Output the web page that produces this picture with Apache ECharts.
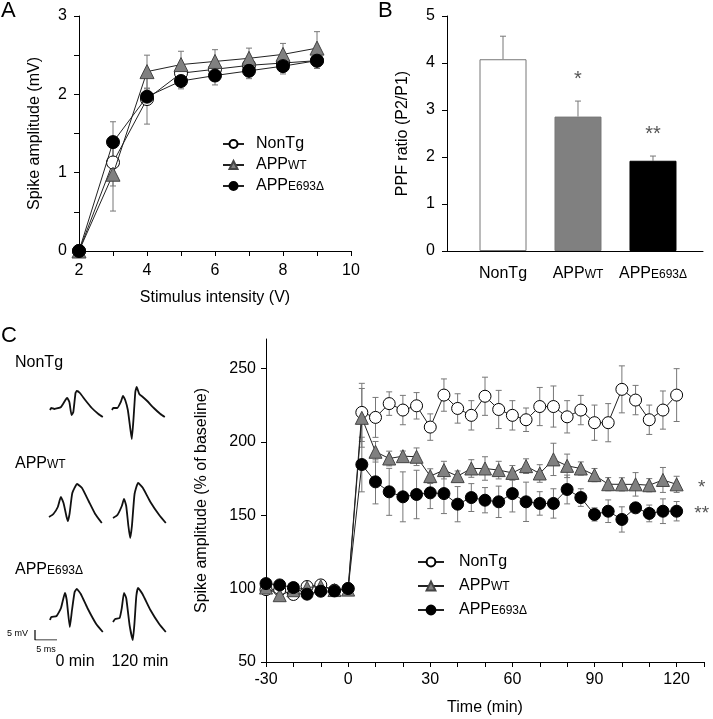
<!DOCTYPE html>
<html>
<head>
<meta charset="utf-8">
<script src="https://cdn.jsdelivr.net/npm/echarts@6/dist/echarts.min.js"></script>
<style>
  html, body { margin: 0; padding: 0; background: #fff; }
  #chart { width: 713px; height: 719px; }
</style>
</head>
<body>
<div id="chart"></div>
<script>
// A: input/output curve
const stimV = [2, 3, 4, 5, 6, 7, 8, 9]
const ioNonTg = [0, 1.13, 1.94, 2.27, 2.32, 2.37, 2.40, 2.43]
const ioNonTgErr = [0, 0.30, 0.32, 0.10, 0.10, 0.10, 0.10, 0.10]
const ioWT = [0, 0.98, 2.29, 2.38, 2.42, 2.46, 2.51, 2.59]
const ioWTErr = [0, 0.47, 0.21, 0.17, 0.15, 0.13, 0.14, 0.21]
const ioE693 = [0, 1.39, 1.97, 2.17, 2.24, 2.30, 2.36, 2.43]
const ioE693Err = [0, 0.26, 0.10, 0.10, 0.12, 0.10, 0.10, 0.10]

// B: paired pulse ratio
const ppfMain = ['NonTg', 'APP', 'APP']
const ppfSub = ['', 'WT', 'E693Δ']
const ppf = [4.08, 2.86, 1.92]
const ppfErr = [0.49, 0.33, 0.10]
const ppfSig = ['', '*', '**']
const ppfColors = ['#fff', '#808080', '#000']

// C: LTP time course
const ltpTime = [-30, -25, -20, -15, -10, -5, 0, 5, 10, 15, 20, 25, 30, 35, 40, 45, 50, 55, 60,
  65, 70, 75, 80, 85, 90, 95, 100, 105, 110, 115, 120]
const ltpNonTg = [99.3, 99, 96, 101.4, 102.5, 98.9, 100, 220, 216.6, 226, 221.6, 224.5, 210, 231.8,
  222.7, 218, 231, 222, 218, 215, 224, 224, 217, 221.6, 213, 213, 235.7, 228.4, 215, 221.6, 231.8]
const ltpNonTgErr = [2, 2, 2, 2, 2, 2, 1, 19.8, 13.6, 8, 10, 9, 9, 11, 10, 10, 13, 13, 10, 8, 13, 14,
  11, 10, 12, 13, 16, 10, 10, 13, 18]
const ltpWT = [100.7, 95.5, 98.9, 100.7, 101.6, 99, 99.3, 216.3, 193.2, 188.6, 190.2, 189.8, 176.6,
  180.7, 176.6, 181.8, 181.8, 180.7, 178.8, 183.4, 178.4, 188, 183.6, 181.8, 177.3, 171.1, 171, 171,
  170.4, 174, 171]
const ltpWTErr = [2, 3, 2, 2, 2, 2, 1, 20, 7, 5, 3.5, 6, 5, 6, 3.5, 6, 8, 6, 5, 5, 6, 11, 8, 4.5, 4.5,
  4.5, 4.5, 8, 4.5, 8.5, 5.5]
const ltpE693 = [103.4, 102.5, 100.7, 96.2, 98.2, 98.4, 100, 184.5, 172.7, 165.9, 162.5, 164.1, 165.2,
  164.7, 157.5, 162, 160.2, 159.1, 164.7, 159.1, 158, 158, 167.5, 162, 150.5, 152.7, 147.1, 155,
  151.2, 152.7, 152.7]
const ltpE693Err = [2, 2, 3, 2, 2, 2, 1, 18.6, 15, 16, 17, 16.5, 10.7, 13.6, 12, 9.5, 8.6, 10.7, 12.5,
  13.4, 8, 10, 9.8, 6, 4.5, 7.7, 8.6, 2, 5.7, 8.4, 6.6]

// C: example field potentials, [ms, mV]
const trNonTg0 = [[0, 0], [0.3, 1], [1, 0.5], [2.5, 1.5], [3.5, 5], [3.9, 6], [4.4, 4], [4.9, -2.5],
  [5.3, -1], [5.8, 8.5], [6.1, 9.5], [6.8, 8.5], [8, 5], [9.5, 1], [11, -2], [12, -3.5]]
const trNonTg120 = [[0, 0], [0.3, 1], [1.2, 1], [2, 4], [2.5, 7], [3, 5], [3.6, 0], [4.2, -10],
  [4.5, -14.5], [4.9, -4], [5.3, 9], [5.6, 11.5], [6.2, 8], [7, 6.5], [8, 4.5], [9.5, 1], [11, -2], [12, -3.5]]
const trWT0 = [[0, 0], [1, 1.5], [2, 5], [2.7, 10], [3.3, 7], [4, 0], [4.3, -2], [4.7, 2], [5.3, 12],
  [6.4, 16.5], [7.5, 14.5], [9, 8], [10.5, 1.5], [12, -3]]
const trWT120 = [[0, 0], [1, 1.5], [2, 6], [2.5, 9.5], [3, 6], [3.5, -4], [3.9, -10], [4.3, -4],
  [4.9, 12], [5.7, 17.5], [6.8, 15], [8.5, 8], [10.5, 1.5], [12, -2.5]]
const trE6930 = [[0, 0], [0.3, 1.5], [1.5, 2], [2.5, 6], [3.4, 13.5], [3.8, 10], [4.5, -3.5], [5, 5],
  [5.6, 14], [6.1, 15.5], [7, 13], [8.5, 6], [10.5, -2], [12, -6]]
const trE693120 = [[0, 0], [0.5, 1.5], [1.5, 2], [2, 7], [2.5, 14.5], [3, 12], [3.8, -2], [4.5, -9],
  [4.9, 0], [5.3, 13], [5.7, 17], [6.7, 14], [8.5, 6], [10.5, -1], [12, -5]]
const scaleBar = [[0, 5], [0, 0], [5, 0]]

const FONT = 'Liberation Sans, Arial, sans-serif'
const FS = 16
const seriesNames = ['NonTg', 'APPWT', 'APPE693Δ']
const rich = {
  m: { fontSize: FS, fontFamily: FONT, color: '#000', verticalAlign: 'bottom' },
  s: { fontSize: 12, fontFamily: FONT, color: '#000', verticalAlign: 'bottom', padding: [0, 0, 1, 0] }
}
function richName (main, sub) {
  return sub ? '{m|' + main + '}{s|' + sub + '}' : '{m|' + main + '}'
}
const legendText = {
  'NonTg': richName('NonTg', ''),
  'APPWT': richName('APP', 'WT'),
  'APPE693Δ': richName('APP', 'E693Δ')
}

const markStyles = [
  { symbol: 'circle', itemStyle: { color: '#fff', borderColor: '#000', borderWidth: 1 } },
  { symbol: 'triangle', itemStyle: { color: '#808080', borderColor: '#444', borderWidth: 1 } },
  { symbol: 'circle', itemStyle: { color: '#000', borderColor: '#000', borderWidth: 1 } }
]

function axisBase (extra) {
  return Object.assign({
    type: 'value',
    axisLine: { show: true, onZero: false, lineStyle: { color: '#000', width: 1 } },
    axisTick: { show: true, length: 5, lineStyle: { color: '#000' } },
    axisLabel: { color: '#000', fontSize: FS, fontFamily: FONT },
    splitLine: { show: false },
    nameTextStyle: { color: '#000', fontSize: FS, fontFamily: FONT }
  }, extra)
}

function lineSeries (k, xi, xs, ys, size) {
  return {
    type: 'line', name: seriesNames[k], xAxisIndex: xi, yAxisIndex: xi,
    data: xs.map((x, i) => [x, ys[i]]),
    symbol: markStyles[k].symbol,
    symbolSize: markStyles[k].symbol === 'triangle' ? size + 1 : size,
    itemStyle: markStyles[k].itemStyle,
    lineStyle: { color: '#222', width: 1 },
    z: 3 + k,
    animation: false
  }
}

function errSeries (xi, xs, ys, es, onlyUp, sig) {
  return {
    type: 'custom', name: 'err' + xi, xAxisIndex: xi, yAxisIndex: xi, silent: true, z: 2,
    data: xs.map((x, i) => [x, ys[i], es[i]]),
    encode: { x: 0, y: 1 },
    renderItem (params, api) {
      const x = api.value(0), y = api.value(1), e = api.value(2)
      const top = api.coord([x, y + e])
      const bot = api.coord([x, onlyUp ? y : y - e])
      const w = 3
      const st = { stroke: '#777', lineWidth: 1 }
      const children = [
        { type: 'line', shape: { x1: top[0], y1: top[1], x2: bot[0], y2: bot[1] }, style: st },
        { type: 'line', shape: { x1: top[0] - w, y1: top[1], x2: top[0] + w, y2: top[1] }, style: st }
      ]
      if (!onlyUp) children.push({ type: 'line', shape: { x1: bot[0] - w, y1: bot[1], x2: bot[0] + w, y2: bot[1] }, style: st })
      if (sig && sig[params.dataIndex]) {
        children.push({ type: 'text', x: top[0], y: top[1] - 22,
          style: { text: sig[params.dataIndex], fill: '#555', font: '20px ' + FONT, align: 'center', verticalAlign: 'middle' } })
      }
      return { type: 'group', children }
    }
  }
}

function traceSeries (idx, data) {
  return {
    type: 'line', xAxisIndex: idx, yAxisIndex: idx, data,
    symbol: 'none', smooth: 0.15, lineStyle: { color: '#111', width: 1.8 }, silent: true, animation: false
  }
}

// trace panels: left px, baseline px
const traceGrids = [[50, 410], [112, 410], [49, 517], [113, 518], [50, 620], [113, 622]]
const traceData = [trNonTg0, trNonTg120, trWT0, trWT120, trE6930, trE693120]

const grid = [
  { left: 79, top: 16, width: 272, height: 235 },
  { left: 447, top: 16, width: 256, height: 235 },
  { left: 266, top: 339, width: 438, height: 323 }
]
traceGrids.forEach(g => grid.push({ left: g[0], top: g[1] - 40, width: 52.8, height: 70 }))
grid.push({ left: 35, top: 630, width: 22, height: 10 })

const xAxis = [
  axisBase({ gridIndex: 0, min: 2, max: 10, interval: 1,
    axisLabel: { color: '#000', fontSize: FS, fontFamily: FONT, margin: 12, formatter: v => (v % 2 === 0 ? v : '') },
    name: 'Stimulus intensity (V)', nameLocation: 'middle', nameGap: 39 }),
  axisBase({ gridIndex: 1, min: 0.253, max: 3.667, axisTick: { show: false },
    axisLabel: { color: '#000', fontSize: FS, fontFamily: FONT, margin: 15, customValues: [1, 2, 3],
      formatter: v => richName(ppfMain[Math.round(v) - 1], ppfSub[Math.round(v) - 1]), rich } }),
  axisBase({ gridIndex: 2, min: -30, max: 130, interval: 10,
    axisLabel: { color: '#000', fontSize: FS, fontFamily: FONT, margin: 10, formatter: v => (v % 30 === 0 && v <= 120 ? v : '') },
    name: 'Time (min)', nameLocation: 'middle', nameGap: 38 })
]
const yAxis = [
  axisBase({ gridIndex: 0, min: 0, max: 3, interval: 0.5,
    axisLabel: { color: '#000', fontSize: FS, fontFamily: FONT, margin: 12, formatter: v => (v % 1 === 0 ? v : '') },
    name: 'Spike amplitude (mV)', nameLocation: 'middle', nameGap: 36 }),
  axisBase({ gridIndex: 1, min: 0, max: 5, interval: 1,
    axisLabel: { color: '#000', fontSize: FS, fontFamily: FONT, margin: 12 },
    name: 'PPF ratio (P2/P1)', nameLocation: 'middle', nameGap: 36 }),
  axisBase({ gridIndex: 2, min: 50, max: 270,
    axisTick: { show: true, length: 5, lineStyle: { color: '#000' }, customValues: [50, 100, 150, 200, 250] },
    axisLabel: { color: '#000', fontSize: FS, fontFamily: FONT, margin: 10, customValues: [50, 100, 150, 200, 250] },
    name: 'Spike amplitude (% of baseline)', nameLocation: 'middle', nameGap: 56 })
]
traceGrids.forEach((g, i) => {
  xAxis.push({ type: 'value', gridIndex: 3 + i, min: 0, max: 12, show: false })
  yAxis.push({ type: 'value', gridIndex: 3 + i, min: -15, max: 20, show: false })
})
xAxis.push({ type: 'value', gridIndex: 9, min: 0, max: 5, show: false })
yAxis.push({ type: 'value', gridIndex: 9, min: 0, max: 5, show: false })

const last = ltpTime.length - 1
const series = [
  errSeries(0, stimV, ioNonTg, ioNonTgErr, false),
  errSeries(0, stimV, ioWT, ioWTErr, false),
  errSeries(0, stimV, ioE693, ioE693Err, false),
  lineSeries(0, 0, stimV, ioNonTg, 13),
  lineSeries(1, 0, stimV, ioWT, 13),
  lineSeries(2, 0, stimV, ioE693, 13),
  {
    type: 'bar', xAxisIndex: 1, yAxisIndex: 1, barWidth: 47, silent: true, animation: false,
    data: ppf.map((v, i) => ({ value: [i + 1, v],
      itemStyle: { color: ppfColors[i], borderColor: i === 2 ? '#000' : '#777', borderWidth: 1 } }))
  },
  errSeries(1, [1, 2, 3], ppf, ppfErr, true, ppfSig),
  errSeries(2, ltpTime, ltpNonTg, ltpNonTgErr, false),
  errSeries(2, ltpTime, ltpWT, ltpWTErr, false),
  errSeries(2, ltpTime, ltpE693, ltpE693Err, false),
  lineSeries(0, 2, ltpTime, ltpNonTg, 12),
  lineSeries(1, 2, ltpTime, ltpWT, 12),
  lineSeries(2, 2, ltpTime, ltpE693, 12),
  {
    type: 'custom', xAxisIndex: 2, yAxisIndex: 2, silent: true,
    data: [[ltpTime[last], ltpWT[last], '*'], [ltpTime[last], ltpE693[last], '**']],
    renderItem (params, api) {
      const p = api.coord([api.value(0), api.value(1)])
      return { type: 'text', x: p[0] + 25, y: p[1] + 3,
        style: { text: params.dataIndex === 0 ? '*' : '**', fill: '#555', font: '19px ' + FONT, align: 'center', verticalAlign: 'middle' } }
    }
  }
]
traceData.forEach((d, i) => series.push(traceSeries(3 + i, d)))
series.push({ type: 'line', xAxisIndex: 9, yAxisIndex: 9, data: scaleBar, symbol: 'none',
  lineStyle: { color: '#000', width: 1.2 }, silent: true, animation: false })

function legendAt (left, top, width, height, gap, pad) {
  return {
    orient: 'vertical', left, top, padding: 0, itemWidth: width, itemHeight: height, itemGap: gap,
    data: seriesNames, selectedMode: false,
    formatter: n => legendText[n],
    textStyle: { fontSize: FS, fontFamily: FONT, color: '#000', rich, padding: [0, 0, 0, pad] }
  }
}

function label (text, x, y, size, align) {
  return { type: 'text', x, y,
    style: { text, rich, font: size + 'px ' + FONT, fill: '#000', align: align || 'left', verticalAlign: 'middle' } }
}

const option = {
  animation: false,
  backgroundColor: '#fff',
  grid,
  xAxis,
  yAxis,
  series,
  legend: [legendAt(222, 136, 21, 10, 5, 7), legendAt(417, 554, 26, 11, 8, 10)],
  graphic: [
    label('A', 1, 11, 22),
    label('B', 378, 11, 22),
    label('C', 1, 336, 22),
    label('NonTg', 15, 363, FS),
    label(richName('APP', 'WT'), 15, 464, FS),
    label(richName('APP', 'E693Δ'), 15, 570, FS),
    label('0 min', 75, 662, FS, 'center'),
    label('120 min', 140, 662, FS, 'center'),
    label('5 mV', 7, 634, 9),
    label('5 ms', 46, 650, 9, 'center')
  ]
}

const myChart = echarts.init(document.getElementById('chart'))
myChart.setOption(option)
</script>
</body>
</html>
